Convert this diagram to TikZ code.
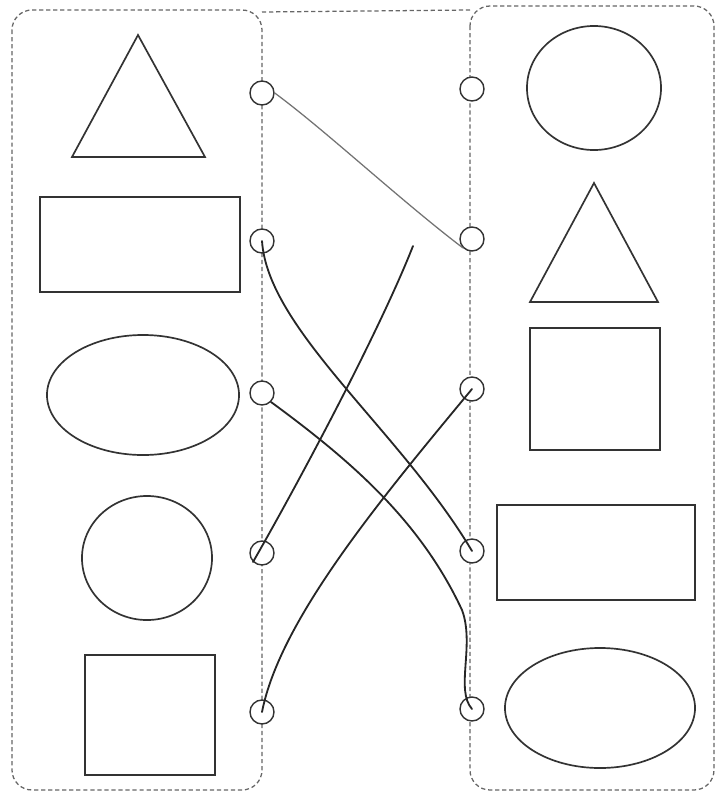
\documentclass[tikz,border=0pt]{standalone}
\usepackage{tikz}
\usetikzlibrary{positioning,calc}

\begin{document}
\begin{tikzpicture}[
    x=0.025cm, y={(0,-0.025cm)},
    panel/.style={draw=black!60, densely dashed, line width=0.9pt, rounded corners=0.5cm},
    figure/.style={draw=black!80, line width=1.2pt},
    dot/.style={circle, draw=black!80, fill=white, line width=1pt, minimum size=0.6cm, inner sep=0pt},
    pencil/.style={draw=black!85, line width=1.3pt, line cap=round},
    faint/.style={draw=black!55, line width=0.9pt, line cap=round}
  ]
    \useasboundingbox (0,0) rectangle (720,798);

    % the two panels
    \draw[panel] (12,10) rectangle (262,790);
    \draw[panel] (470,6) rectangle (714,790);
    \draw[black!60, densely dashed, line width=0.9pt] (262,12) -- (470,10);

    % left column
    \draw[figure] (138,35) -- (205,157) -- (72,157) -- cycle;
    \draw[figure] (40,197) rectangle (240,292);
    \draw[figure] (143,395) ellipse [x radius=2.4cm, y radius=1.5cm];
    \draw[figure] (147,558) ellipse [x radius=1.625cm, y radius=1.55cm];
    \draw[figure] (85,655) rectangle (215,775);

    % right column
    \draw[figure] (594,88) ellipse [x radius=1.675cm, y radius=1.55cm];
    \draw[figure] (594,183) -- (658,302) -- (530,302) -- cycle;
    \draw[figure] (530,328) rectangle (660,450);
    \draw[figure] (497,505) rectangle (695,600);
    \draw[figure] (600,708) ellipse [x radius=2.375cm, y radius=1.5cm];

    % matching dots
    \foreach \i/\yl/\yr in {1/93/89, 2/241/239, 3/393/389, 4/553/551, 5/712/709} {
      \node[dot] (l\i) at (262,\yl) {};
      \node[dot] (r\i) at (472,\yr) {};
    }

    \coordinate (stop) at (413,246);

    % hand drawn lines
    \draw[faint] (l1.east) .. controls (325,130) and (400,200) .. (r2.south west);
    \draw[pencil] (l2.center) .. controls (268,330) and (400,430) .. (r4.center);
    \draw[pencil] (l3.south east) .. controls (350,460) and (420,520) .. (462,610)
                  .. controls (475,645) and (455,690) .. (r5.center);
    \draw[pencil] (l4.south west) .. controls (300,480) and (380,330) .. (stop);
    \draw[pencil] (l5.center) .. controls (280,620) and (380,500) .. (r3.center);
  \end{tikzpicture}
\end{document}
